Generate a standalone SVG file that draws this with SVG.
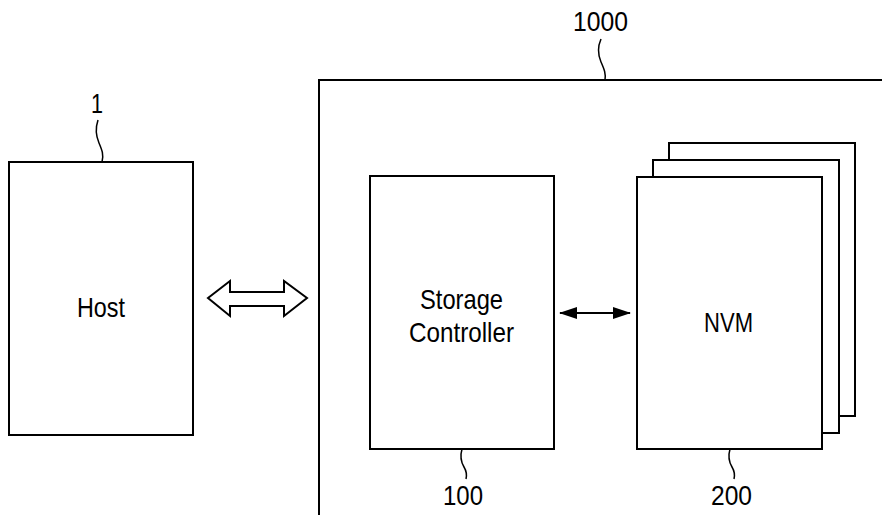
<svg xmlns="http://www.w3.org/2000/svg" width="882" height="515" viewBox="0 0 882 515">
<style>
.box{fill:#fff;stroke:#000;stroke-width:2}
.ln{fill:none;stroke:#000;stroke-width:2}
.ld{fill:none;stroke:#000;stroke-width:1.5}
text{font-family:"Liberation Sans",Arial,sans-serif;font-size:28px;fill:#000;text-anchor:middle}
</style>
<defs>
<marker id="ah2" viewBox="0 0 18 12" markerWidth="18" markerHeight="12" refX="17" refY="6" orient="auto-start-reverse" markerUnits="userSpaceOnUse"><path d="M0,0 L18,6 L0,12 Z" fill="#000"/></marker>
</defs>
<g id="system1000">
<path class="ln" d="M319,515 V80 H882"/>
<text x="600.5" y="31" textLength="55" lengthAdjust="spacingAndGlyphs">1000</text>
<path class="ld" d="M601,39 C597,48 598,55 601,62 C604,69 606,73 605,80"/>
</g>
<g id="host">
<rect class="box" x="9" y="162" width="184" height="273"/>
<text x="101" y="317" textLength="48" lengthAdjust="spacingAndGlyphs">Host</text>
<text x="97" y="113" textLength="12" lengthAdjust="spacingAndGlyphs">1</text>
<path class="ld" d="M98,120 C95,129 96,136 99,143 C102,150 104,155 102,162"/>
</g>
<g id="controller">
<rect class="box" x="370" y="176" width="184" height="273"/>
<text x="461.5" y="309" textLength="83" lengthAdjust="spacingAndGlyphs">Storage</text>
<text x="461.5" y="342" textLength="105" lengthAdjust="spacingAndGlyphs">Controller</text>
<text x="463" y="505" textLength="40" lengthAdjust="spacingAndGlyphs">100</text>
<path class="ld" d="M462,449 C460,456 461,462 464,467 C467,472 467,475 466,479"/>
</g>
<g id="nvm">
<rect class="box" x="669" y="143" width="186" height="273"/>
<rect class="box" x="653" y="160" width="186" height="273"/>
<rect class="box" x="637" y="177" width="185" height="272"/>
<text x="728.5" y="332" textLength="49" lengthAdjust="spacingAndGlyphs">NVM</text>
<text x="731.5" y="505" textLength="41" lengthAdjust="spacingAndGlyphs">200</text>
<path class="ld" d="M730,449 C728,456 729,462 732,467 C735,472 735,475 734,479"/>
</g>
<g id="connectors">
<path class="box" stroke-width="1.5" d="M208,298 L230,281 L230,292 L284,292 L284,281 L307,298 L284,316 L284,306 L230,306 L230,316 Z"/>
<line x1="560" y1="313" x2="630" y2="313" stroke="#000" stroke-width="2" marker-start="url(#ah2)" marker-end="url(#ah2)"/>
</g>
</svg>
